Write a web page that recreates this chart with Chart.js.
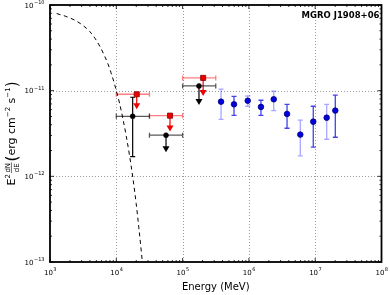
<!DOCTYPE html>
<html>
<head>
<meta charset="utf-8">
<script src="https://cdn.jsdelivr.net/npm/chart.js@4/dist/chart.umd.min.js"></script>
<style>
  body { margin: 0; background: #fff; }
  canvas { display: block; }
</style>
</head>
<body>
<canvas id="sed" width="390" height="295"></canvas>
<script>
// model curve (dashed)
const modelE = [1259, 1698, 2399, 3090, 3981, 4786, 5623, 6607, 7586, 8318, 9333, 10000, 11220, 12589, 14125, 15849, 17783, 19953, 21878, 23988, 25119];
const modelF = [7.94e-11, 7.41e-11, 6.61e-11, 5.82e-11, 4.90e-11, 4.07e-11, 3.31e-11, 2.57e-11, 2.0e-11, 1.62e-11, 1.22e-11, 1.0e-11, 7.08e-12, 4.68e-12, 2.95e-12, 1.74e-12, 9.55e-13, 4.79e-13, 2.51e-13, 1.26e-13, 8.7e-14];

// blue points
const blueE = [3.8e5, 5.96e5, 9.6e5, 1.52e6, 2.37e6, 3.76e6, 5.96e6, 9.35e6, 1.49e7, 2.01e7];
const blueF = [7.44e-12, 6.93e-12, 7.64e-12, 6.46e-12, 7.94e-12, 5.35e-12, 3.07e-12, 4.35e-12, 4.84e-12, 5.85e-12];
const blueHi = [1.04e-11, 8.6e-12, 8.67e-12, 7.73e-12, 9.84e-12, 6.93e-12, 4.52e-12, 6.58e-12, 6.93e-12, 8.85e-12];
const blueLo = [4.63e-12, 5.16e-12, 6.58e-12, 5.16e-12, 5.85e-12, 3.64e-12, 1.73e-12, 2.19e-12, 2.71e-12, 2.86e-12];

// energy bins shared by red and black
const binLo = [1e4, 31623, 1e5];
const binHi = [31623, 1e5, 316228];

// red upper limits
const redE = [20324, 64565, 204174];
const redF = [9.08e-12, 5.11e-12, 1.41e-11];
const redTip = [6.07e-12, 3.33e-12, 8.67e-12];

// black points (first one measured, others upper limits)
const blackE = [17660, 56234, 176604];
const blackF = [5.02e-12, 3.02e-12, 1.135e-11];
const blackHi = [8.38e-12, null, null];
const blackLo = [1.70e-12, null, null];
const blackTip = [null, 1.91e-12, 6.81e-12];

const xTicks = [3, 4, 5, 6, 7, 8];
const yTicks = [-13, -12, -11, -10];

const FONT = '"DejaVu Sans", sans-serif';

function pts(xs, ys) { return xs.map((x, i) => ({ x: x, y: ys[i] })); }

function vbar(ctx, x, y1, y2, cap) {
  ctx.beginPath();
  ctx.moveTo(x, y1); ctx.lineTo(x, y2);
  ctx.moveTo(x - cap, y1); ctx.lineTo(x + cap, y1);
  ctx.moveTo(x - cap, y2); ctx.lineTo(x + cap, y2);
  ctx.stroke();
}
function hbar(ctx, x1, x2, y, cap) {
  ctx.beginPath();
  ctx.moveTo(x1, y); ctx.lineTo(x2, y);
  ctx.moveTo(x1, y - cap); ctx.lineTo(x1, y + cap);
  ctx.moveTo(x2, y - cap); ctx.lineTo(x2, y + cap);
  ctx.stroke();
}
function arrow(ctx, x, y, tipY, color) {
  ctx.strokeStyle = color; ctx.fillStyle = color; ctx.lineWidth = 1.2;
  ctx.beginPath(); ctx.moveTo(x, y); ctx.lineTo(x, tipY - 5); ctx.stroke();
  ctx.beginPath();
  ctx.moveTo(x - 3.5, tipY - 6); ctx.lineTo(x + 3.5, tipY - 6); ctx.lineTo(x, tipY);
  ctx.closePath(); ctx.fill();
}
function pow10(ctx, exp, x, y, align) {
  const base = '10', sup = exp < 0 ? '\u2212' + (-exp) : String(exp);
  ctx.font = '7px ' + FONT;
  const wb = ctx.measureText(base).width;
  ctx.font = '5px ' + FONT;
  const ws = ctx.measureText(sup).width;
  let x0 = align === 'right' ? x - wb - ws : x - (wb + ws) / 2;
  ctx.fillStyle = '#000';
  ctx.textAlign = 'left'; ctx.textBaseline = 'alphabetic';
  ctx.font = '7px ' + FONT;
  ctx.fillText(base, x0, y);
  ctx.font = '5px ' + FONT;
  ctx.fillText(sup, x0 + wb + 0.5, y - 3.5);
}

const sedPlugin = {
  id: 'sed',
  beforeDatasetsDraw(chart) {
    const ctx = chart.ctx, a = chart.chartArea;
    const xs = chart.scales.x, ys = chart.scales.y;
    ctx.save();
    // dotted grid at decades
    ctx.strokeStyle = '#9a9a9a'; ctx.lineWidth = 1; ctx.setLineDash([1, 2]);
    xTicks.slice(1, -1).forEach(e => {
      const px = Math.round(xs.getPixelForValue(Math.pow(10, e))) + 0.5;
      ctx.beginPath(); ctx.moveTo(px, a.top); ctx.lineTo(px, a.bottom); ctx.stroke();
    });
    yTicks.slice(1, -1).forEach(e => {
      const py = Math.round(ys.getPixelForValue(Math.pow(10, e))) + 0.5;
      ctx.beginPath(); ctx.moveTo(a.left, py); ctx.lineTo(a.right, py); ctx.stroke();
    });
    ctx.setLineDash([]);

    // blue error bars
    blueE.forEach((e, i) => {
      ctx.strokeStyle = i % 2 === 0 ? 'rgba(60,60,255,0.45)' : 'rgba(20,20,230,0.8)';
      ctx.lineWidth = 1.3;
      vbar(ctx, xs.getPixelForValue(e), ys.getPixelForValue(blueHi[i]), ys.getPixelForValue(blueLo[i]), 2.5);
    });

    // red bars and arrows
    redE.forEach((e, i) => {
      const y = ys.getPixelForValue(redF[i]);
      ctx.strokeStyle = 'rgba(255,40,40,0.6)'; ctx.lineWidth = 1.3;
      hbar(ctx, xs.getPixelForValue(binLo[i]), xs.getPixelForValue(binHi[i]), y, 2.5);
      arrow(ctx, xs.getPixelForValue(e), y, ys.getPixelForValue(redTip[i]), '#ee0000');
    });

    // black bars and arrows
    blackE.forEach((e, i) => {
      const y = ys.getPixelForValue(blackF[i]);
      const px = xs.getPixelForValue(e);
      ctx.strokeStyle = 'rgba(0,0,0,0.65)'; ctx.lineWidth = 1.3;
      hbar(ctx, xs.getPixelForValue(binLo[i]), xs.getPixelForValue(binHi[i]), y, 2.5);
      if (blackHi[i] !== null) {
        ctx.strokeStyle = '#000'; ctx.lineWidth = 1.2;
        vbar(ctx, px, ys.getPixelForValue(blackHi[i]), ys.getPixelForValue(blackLo[i]), 2.5);
      }
      if (blackTip[i] !== null) arrow(ctx, px, y, ys.getPixelForValue(blackTip[i]), '#000');
    });
    ctx.restore();
  },
  afterDraw(chart) {
    const ctx = chart.ctx, a = chart.chartArea;
    const xs = chart.scales.x, ys = chart.scales.y;
    ctx.save();
    // ticks on all four sides
    ctx.strokeStyle = '#000'; ctx.lineWidth = 0.8;
    for (let d = xTicks[0]; d <= xTicks[xTicks.length - 1]; d++) {
      for (let k = 1; k <= 9; k++) {
        if (d === xTicks[xTicks.length - 1] && k > 1) break;
        const px = xs.getPixelForValue(k * Math.pow(10, d));
        const len = k === 1 ? 4 : 2;
        ctx.beginPath();
        ctx.moveTo(px, a.bottom); ctx.lineTo(px, a.bottom - len);
        ctx.moveTo(px, a.top); ctx.lineTo(px, a.top + len);
        ctx.stroke();
      }
    }
    for (let d = yTicks[0]; d <= yTicks[yTicks.length - 1]; d++) {
      for (let k = 1; k <= 9; k++) {
        if (d === yTicks[yTicks.length - 1] && k > 1) break;
        const py = ys.getPixelForValue(k * Math.pow(10, d));
        const len = k === 1 ? 4 : 2;
        ctx.beginPath();
        ctx.moveTo(a.left, py); ctx.lineTo(a.left + len, py);
        ctx.moveTo(a.right, py); ctx.lineTo(a.right - len, py);
        ctx.stroke();
      }
    }
    // frame
    ctx.lineWidth = 1.8;
    ctx.strokeRect(a.left, a.top, a.right - a.left, a.bottom - a.top);

    // tick labels
    xTicks.forEach(e => pow10(ctx, e, xs.getPixelForValue(Math.pow(10, e)), a.bottom + 12.5, 'center'));
    yTicks.forEach(e => pow10(ctx, e, 44, ys.getPixelForValue(Math.pow(10, e)) + 2.5, 'right'));

    // x title
    ctx.fillStyle = '#000';
    ctx.font = '10px ' + FONT; ctx.textAlign = 'center'; ctx.textBaseline = 'alphabetic';
    ctx.fillText('Energy (MeV)', (a.left + a.right) / 2, 290);

    // source name
    ctx.font = 'bold 8.5px ' + FONT; ctx.textAlign = 'right';
    ctx.fillText('MGRO J1908+06', a.right - 2, 18);

    // y title
    const parts = [
      { t: 'E', f: 11, dy: 0 },
      { t: '2', f: 7, dy: -5 },
      { frac: ['dN', 'dE'], f: 7 },
      { t: '(', f: 15, dy: 1.5 },
      { t: 'erg cm', f: 11, dy: 0 },
      { t: '\u22122', f: 7, dy: -5 },
      { t: ' s', f: 11, dy: 0 },
      { t: '\u22121', f: 7, dy: -5 },
      { t: ')', f: 15, dy: 1.5 }
    ];
    let total = 0;
    parts.forEach(p => {
      ctx.font = p.f + 'px ' + FONT;
      p.w = p.frac ? Math.max(ctx.measureText(p.frac[0]).width, ctx.measureText(p.frac[1]).width) + 3 : ctx.measureText(p.t).width;
      total += p.w;
    });
    ctx.translate(15, (a.top + a.bottom) / 2);
    ctx.rotate(-Math.PI / 2);
    ctx.textAlign = 'left';
    let cx = -total / 2;
    parts.forEach(p => {
      ctx.font = p.f + 'px ' + FONT;
      if (p.frac) {
        ctx.textAlign = 'center';
        ctx.fillText(p.frac[0], cx + p.w / 2, -5);
        ctx.fillText(p.frac[1], cx + p.w / 2, 3.8);
        ctx.lineWidth = 0.6;
        ctx.beginPath(); ctx.moveTo(cx + 1, -3.6); ctx.lineTo(cx + p.w - 1, -3.6); ctx.stroke();
        ctx.textAlign = 'left';
      } else {
        ctx.fillText(p.t, cx, p.dy);
      }
      cx += p.w;
    });
    ctx.restore();
  }
};

new Chart(document.getElementById('sed'), {
  type: 'scatter',
  data: {
    datasets: [
      {
        type: 'line',
        data: pts(modelE, modelF),
        borderColor: '#000',
        borderWidth: 1,
        borderDash: [4, 3.5],
        pointRadius: 0,
        fill: false,
        cubicInterpolationMode: 'monotone'
      },
      {
        data: pts(blueE, blueF),
        pointStyle: 'circle',
        pointRadius: 2.8,
        backgroundColor: '#0000e0',
        borderColor: '#00007a',
        borderWidth: 0.8
      },
      {
        data: pts(redE, redF),
        pointStyle: 'rect',
        pointRadius: 3.6,
        backgroundColor: '#ee0000',
        borderColor: '#8a0000',
        borderWidth: 0.8
      },
      {
        data: pts(blackE, blackF),
        pointStyle: 'circle',
        pointRadius: 2.5,
        backgroundColor: '#000',
        borderColor: '#000',
        borderWidth: 0.5
      }
    ]
  },
  options: {
    responsive: false,
    animation: false,
    devicePixelRatio: 1,
    layout: { padding: { left: 50, top: 5, right: 8.5, bottom: 33 } },
    plugins: { legend: { display: false }, tooltip: { enabled: false } },
    scales: {
      x: { type: 'logarithmic', min: 1e3, max: 1e8, display: false },
      y: { type: 'logarithmic', min: 1e-13, max: 1e-10, display: false }
    }
  },
  plugins: [sedPlugin]
});
</script>
</body>
</html>
